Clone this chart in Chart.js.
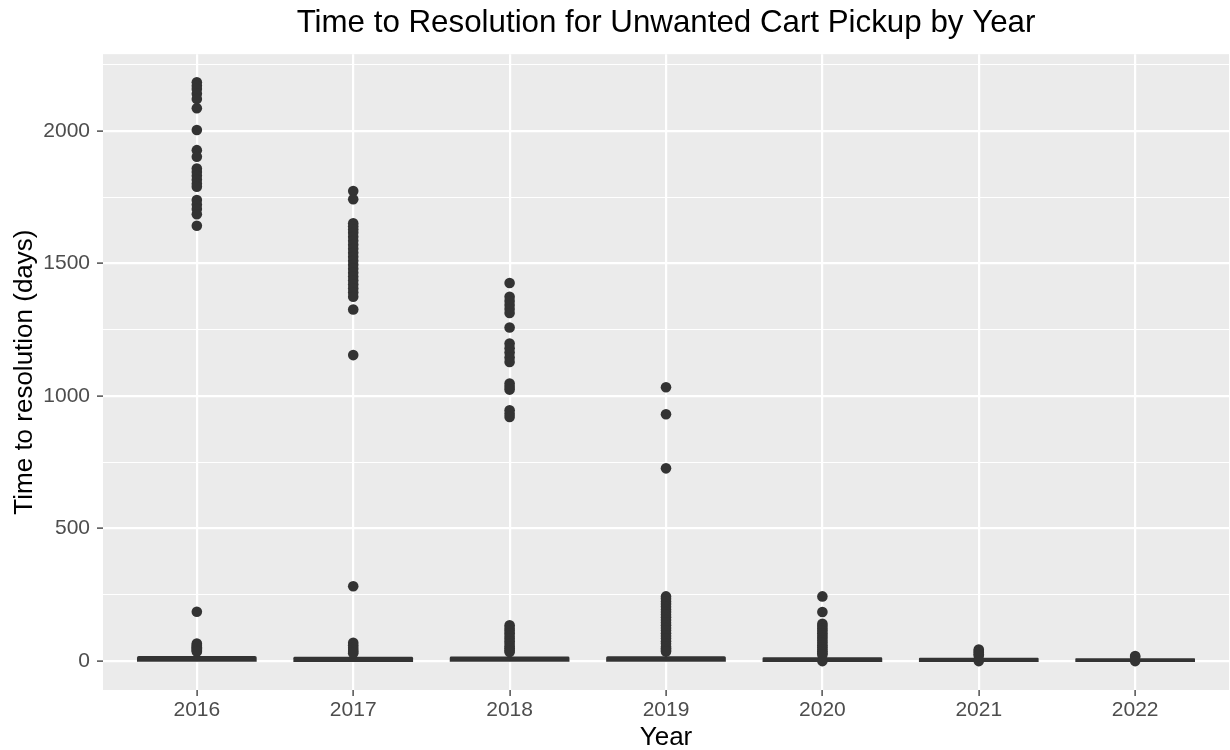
<!DOCTYPE html>
<html>
<head>
<meta charset="utf-8">
<script src="https://cdn.jsdelivr.net/npm/chart.js@4/dist/chart.umd.min.js"></script>
<style>
  html, body { margin: 0; padding: 0; background: #fff; }
  #wrap { width: 1230px; height: 750px; }
</style>
</head>
<body>
<div id="wrap"><canvas id="cartChart"></canvas></div>
<script>
// years on the x axis
const years = [2016, 2017, 2018, 2019, 2020, 2021, 2022];
// box (q1 to q3) and whisker ends, in days
const q1 = [2, 1, 2, 2, 1, 1, 1];
const q3 = [15, 12, 13, 14, 10, 8, 6];
const whiskerLow = [0, 0, 0, 0, 0, 0, 0];
const whiskerHigh = [32, 27, 30, 32, 23, 18, 13];

// outlier points
const out2016 = [2183, 2170, 2158, 2140, 2120, 2085, 2003, 1927, 1902, 1858, 1845, 1830, 1815, 1800, 1789,
  1739, 1722, 1705, 1685, 1642, 186, 66, 61, 57, 52, 48, 44, 40, 36];
const out2017 = [1773, 1742, 1651, 1640, 1628, 1615, 1600, 1585, 1570, 1555, 1540, 1525, 1510, 1495, 1480,
  1465, 1450, 1435, 1420, 1405, 1390, 1374, 1326, 1154, 282, 69, 60, 50, 42, 35, 30];
const out2018 = [1426, 1374, 1358, 1343, 1328, 1313, 1258, 1198, 1180, 1164, 1145, 1128, 1047, 1035, 1024,
  946, 933, 921, 135, 125, 115, 105, 95, 85, 75, 65, 55, 48, 40, 34];
const out2019 = [1033, 931, 727, 244, 235, 225, 215, 205, 195, 185, 175, 165, 155, 145, 135, 125, 115, 105,
  95, 85, 75, 65, 55, 48, 42, 36];
const out2020 = [244, 185, 141, 132, 123, 114, 105, 96, 87, 78, 69, 60, 52, 44, 37, 30, 24, 0];
const out2021 = [44, 38, 32, 26, 20, 0];
const out2022 = [19, 15, 0];
const outliers = [out2016, out2017, out2018, out2019, out2020, out2021, out2022];

// axis ticks: labelled every 500, plain grid line in between
const yTicks = [0, 250, 500, 750, 1000, 1250, 1500, 1750, 2000, 2250];
const yLabelled = [0, 500, 1000, 1500, 2000];

const FONT = "'Liberation Sans', Arial, sans-serif";
const INK = '#333333';

/* ---------- helpers ---------- */
const boxData = years.map((y, i) => ({ x: y, y: [q1[i], q3[i]] }));
const whiskerData = years.map((y, i) => ({ x: y, y: [whiskerLow[i], whiskerHigh[i]] }));
const pointData = [];
years.forEach((y, i) => outliers[i].forEach(v => pointData.push({ x: y, y: v })));
const isMajor = ctx => ctx.tick && yLabelled.includes(ctx.tick.value);

// grey panel behind the plot, white page around it
const panelBg = {
  id: 'panelBg',
  beforeDraw(chart) {
    const { ctx, chartArea: a } = chart;
    ctx.save();
    ctx.fillStyle = '#ffffff';
    ctx.fillRect(0, 0, chart.width, chart.height);
    ctx.fillStyle = '#ebebeb';
    ctx.fillRect(a.left, a.top, a.right - a.left, a.bottom - a.top);
    ctx.restore();
  }
};

new Chart(document.getElementById('cartChart'), {
  type: 'bar',
  data: {
    datasets: [
      {
        type: 'scatter',
        label: 'outliers',
        data: pointData,
        pointRadius: 5.3,
        pointBorderWidth: 0,
        pointBackgroundColor: INK,
        order: 0
      },
      {
        label: 'box',
        data: boxData,
        grouped: false,
        backgroundColor: INK,
        borderWidth: 0,
        borderRadius: 2.5,
        inflateAmount: 1.2,
        barPercentage: 0.75,
        categoryPercentage: 1,
        order: 1
      },
      {
        label: 'whisker',
        data: whiskerData,
        grouped: false,
        backgroundColor: INK,
        borderWidth: 0,
        barThickness: 1.5,
        order: 2
      }
    ]
  },
  options: {
    responsive: true,
    maintainAspectRatio: false,
    animation: false,
    events: [],
    layout: { autoPadding: false, padding: { left: 0, right: 1, top: 0, bottom: 0 } },
    plugins: {
      legend: { display: false },
      tooltip: { enabled: false },
      title: {
        display: true,
        text: 'Time to Resolution for Unwanted Cart Pickup by Year',
        fullSize: false,
        color: '#000000',
        font: { family: FONT, size: 31.3, weight: 'normal', lineHeight: 1.2 },
        padding: { top: 4.2, bottom: 12.4 }
      }
    },
    scales: {
      x: {
        type: 'linear',
        offset: false,
        min: 2015.4,
        max: 2022.6,
        afterBuildTicks: axis => { axis.ticks = years.map(v => ({ value: v })); },
        afterFit: axis => { axis.height = 60; },
        ticks: {
          callback: v => String(v),
          color: '#4d4d4d',
          font: { family: FONT, size: 21 },
          padding: 2,
          maxRotation: 0
        },
        grid: { offset: false, color: '#ffffff', lineWidth: 2.2, tickColor: INK, tickLength: 6, tickWidth: 1.3 },
        border: { display: false },
        title: {
          display: true,
          text: 'Year',
          color: '#000000',
          font: { family: FONT, size: 26, lineHeight: 0.9 },
          padding: { top: 0, bottom: 0 }
        }
      },
      y: {
        min: -109,
        max: 2289,
        afterBuildTicks: axis => { axis.ticks = yTicks.map(v => ({ value: v })); },
        afterFit: axis => { axis.width = 103; },
        ticks: {
          callback: v => (yLabelled.includes(v) ? String(v) : ''),
          color: '#4d4d4d',
          font: { family: FONT, size: 21 },
          padding: 7
        },
        grid: {
          color: '#ffffff',
          lineWidth: ctx => (isMajor(ctx) ? 2.2 : 1.1),
          tickColor: ctx => (isMajor(ctx) ? INK : 'rgba(0,0,0,0)'),
          tickLength: 6,
          tickWidth: 1.3
        },
        border: { display: false },
        title: {
          display: true,
          text: 'Time to resolution (days)',
          color: '#000000',
          font: { family: FONT, size: 26, lineHeight: 1.2 },
          padding: { top: 9, bottom: 0 }
        }
      }
    }
  },
  plugins: [panelBg]
});
</script>
</body>
</html>
